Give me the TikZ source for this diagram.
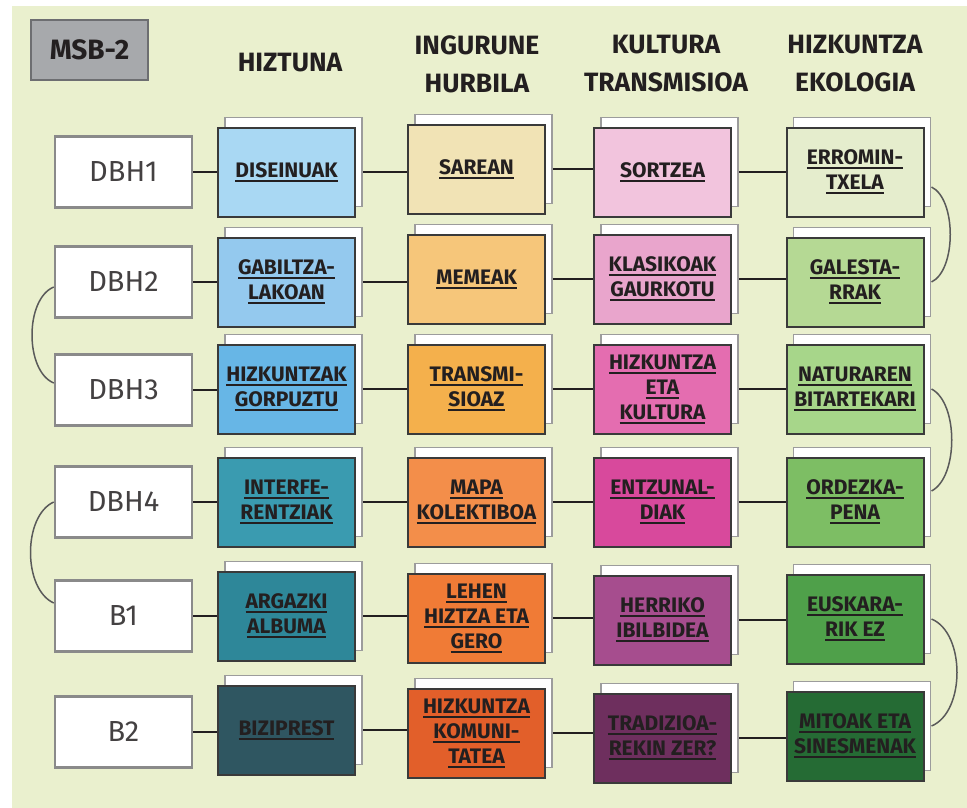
\documentclass[tikz,border=0pt]{standalone}
\usepackage{fontspec}
\setmainfont{Fira Sans}
\usetikzlibrary{positioning,shadows,backgrounds}

\definecolor{panel}{HTML}{EAF0CE}
\definecolor{ink}{HTML}{231F20}
\definecolor{cardline}{HTML}{3A3A3A}
\definecolor{backline}{HTML}{9C9C9C}
\definecolor{stageline}{HTML}{8A8A8A}
\definecolor{arcgray}{HTML}{5A5A5A}
\definecolor{msbgray}{HTML}{A7A9AC}
\definecolor{msbline}{HTML}{6D6E71}
% hiztuna
\definecolor{hizA}{HTML}{A9D8F3}
\definecolor{hizB}{HTML}{94C9EE}
\definecolor{hizC}{HTML}{67B6E6}
\definecolor{hizD}{HTML}{3A9BB0}
\definecolor{hizE}{HTML}{2E8799}
\definecolor{hizF}{HTML}{2F5661}
% ingurune hurbila
\definecolor{ingA}{HTML}{F1E3B5}
\definecolor{ingB}{HTML}{F6C67A}
\definecolor{ingC}{HTML}{F4B04C}
\definecolor{ingD}{HTML}{F38E4A}
\definecolor{ingE}{HTML}{F07B36}
\definecolor{ingF}{HTML}{E25F2A}
% kultura transmisioa
\definecolor{kulA}{HTML}{F2C4DD}
\definecolor{kulB}{HTML}{E9A5CC}
\definecolor{kulC}{HTML}{E46DB0}
\definecolor{kulD}{HTML}{D8499C}
\definecolor{kulE}{HTML}{A64D8E}
\definecolor{kulF}{HTML}{6E2F5E}
% hizkuntza ekologia
\definecolor{ekoA}{HTML}{E5EDCD}
\definecolor{ekoB}{HTML}{B5D994}
\definecolor{ekoC}{HTML}{A7D68A}
\definecolor{ekoD}{HTML}{7DBE64}
\definecolor{ekoE}{HTML}{4FA04A}
\definecolor{ekoF}{HTML}{256B34}

\newcommand{\lnk}[1]{\leavevmode\setbox0\hbox{#1}\rlap{\rule[-4.5pt]{\wd0}{1.9pt}}\box0}

\tikzset{
	stage/.style={draw=stageline, line width=2.5pt, fill=white, minimum width=137pt, minimum height=71pt, inner sep=0pt, text=ink!85, font=\fontsize{29}{34}\selectfont},
	card/.style={draw=cardline, line width=2pt, fill=#1, minimum width=137pt, minimum height=89pt, inner sep=0pt, align=center, text=ink, font=\bfseries\fontsize{21}{25}\selectfont,
			general shadow={shadow xshift=7pt, shadow yshift=10pt, fill=white, draw=backline, line width=1.2pt}},
	colhead/.style={align=center, text=ink, font=\bfseries\fontsize{26.5}{38}\selectfont},
	conn/.style={draw=ink, line width=2.5pt},
	turn/.style={draw=arcgray, line width=1.5pt}
}

\begin{document}
\begin{tikzpicture}[x=1pt,y=-1pt]
		\useasboundingbox (0,0) rectangle (967,808);

		\node[draw=msbline, fill=msbgray, line width=2pt, minimum width=117pt, minimum height=60pt, inner sep=0pt, text=ink, font=\bfseries\fontsize{28}{30}\selectfont] (msb) at (89.5,50) {MSB-2};

		\node[colhead] (head1) at (290,63) {HIZTUNA};
		\node[colhead] (head2) at (477,64) {INGURUNE\\HURBILA};
		\node[colhead] (head3) at (666,64) {KULTURA\\TRANSMISIOA};
		\node[colhead] (head4) at (855,64) {HIZKUNTZA\\EKOLOGIA};

		% mailak
		\node[stage] (lv1) at (123.5,172) {DBH1};
		\node[stage] (lv2) at (123.5,282) {DBH2};
		\node[stage] (lv3) at (123.5,390) {DBH3};
		\node[stage] (lv4) at (123.5,502) {DBH4};
		\node[stage] (lv5) at (123.5,616) {B1};
		\node[stage] (lv6) at (123.5,732) {B2};

		% hiztuna
		\node[card=hizA] (hiz1) at (286.5,172) {\lnk{DISEINUAK}};
		\node[card=hizB] (hiz2) at (286.5,282) {\lnk{GABILTZA-}\\\lnk{LAKOAN}};
		\node[card=hizC] (hiz3) at (286.5,389) {\lnk{HIZKUNTZAK}\\\lnk{GORPUZTU}};
		\node[card=hizD] (hiz4) at (286.5,502) {\lnk{INTERFE-}\\\lnk{RENTZIAK}};
		\node[card=hizE] (hiz5) at (286.5,616) {\lnk{ARGAZKI}\\\lnk{ALBUMA}};
		\node[card=hizF] (hiz6) at (286.5,730) {\lnk{BIZIPREST}};

		% ingurune hurbila
		\node[card=ingA] (ing1) at (476.5,169) {\lnk{SAREAN}};
		\node[card=ingB] (ing2) at (476.5,279) {\lnk{MEMEAK}};
		\node[card=ingC] (ing3) at (476.5,389) {\lnk{TRANSMI-}\\\lnk{SIOAZ}};
		\node[card=ingD] (ing4) at (476.5,502) {\lnk{MAPA}\\\lnk{KOLEKTIBOA}};
		\node[card=ingE] (ing5) at (476.5,618) {\lnk{LEHEN}\\\lnk{HIZTZA ETA}\\\lnk{GERO}};
		\node[card=ingF] (ing6) at (476.5,733) {\lnk{HIZKUNTZA}\\\lnk{KOMUNI-}\\\lnk{TATEA}};

		% kultura transmisioa
		\node[card=kulA] (kul1) at (662.5,172) {\lnk{SORTZEA}};
		\node[card=kulB] (kul2) at (662.5,279) {\lnk{KLASIKOAK}\\\lnk{GAURKOTU}};
		\node[card=kulC] (kul3) at (662.5,389) {\lnk{HIZKUNTZA}\\\lnk{ETA}\\\lnk{KULTURA}};
		\node[card=kulD] (kul4) at (662.5,502) {\lnk{ENTZUNAL-}\\\lnk{DIAK}};
		\node[card=kulE] (kul5) at (662.5,620) {\lnk{HERRIKO}\\\lnk{IBILBIDEA}};
		\node[card=kulF] (kul6) at (662.5,738) {\lnk{TRADIZIOA-}\\\lnk{REKIN ZER?}};

		% hizkuntza ekologia
		\node[card=ekoA] (eko1) at (855,172) {\lnk{ERROMIN-}\\\lnk{TXELA}};
		\node[card=ekoB] (eko2) at (855,282) {\lnk{GALESTA-}\\\lnk{RRAK}};
		\node[card=ekoC] (eko3) at (855,389) {\lnk{NATURAREN}\\\lnk{BITARTEKARI}};
		\node[card=ekoD] (eko4) at (855,502) {\lnk{ORDEZKA-}\\\lnk{PENA}};
		\node[card=ekoE] (eko5) at (855,619) {\lnk{EUSKARA-}\\\lnk{RIK EZ}};
		\node[card=ekoF] (eko6) at (855,736) {\lnk{MITOAK ETA}\\\lnk{SINESMENAK}};

		\begin{scope}[on background layer]
			\fill[panel] (12,6) rectangle (967,808);
			\foreach \i in {1,...,6} {
					\draw[conn] (lv\i.east) -- (lv\i.east -| hiz\i.west);
					\draw[conn] (hiz\i.east) -- (hiz\i.east -| ing\i.west);
					\draw[conn] (ing\i.east) -- (ing\i.east -| kul\i.west);
					\draw[conn] (kul\i.east) -- (kul\i.east -| eko\i.west);
				}
			% loturak
			\draw[turn] ([yshift=-5pt]lv2.west) .. controls +(-29,12) and +(-29,-12) .. ([yshift=7pt]lv3.west);
			\draw[turn] (lv4.west) .. controls +(-31,14) and +(-31,-14) .. ([yshift=13pt]lv5.west);
			\draw[turn] ([shift={(7,15)}]eko1.east) .. controls +(25,12) and +(25,-12) .. ([xshift=7pt]eko2.east);
			\draw[turn] ([xshift=7pt]eko3.east) .. controls +(27,14) and +(27,-14) .. ([shift={(7,-11)}]eko4.east);
			\draw[turn] ([xshift=7pt]eko5.east) .. controls +(34,14) and +(34,-14) .. ([shift={(7,-10)}]eko6.east);
		\end{scope}
	\end{tikzpicture}
\end{document}
